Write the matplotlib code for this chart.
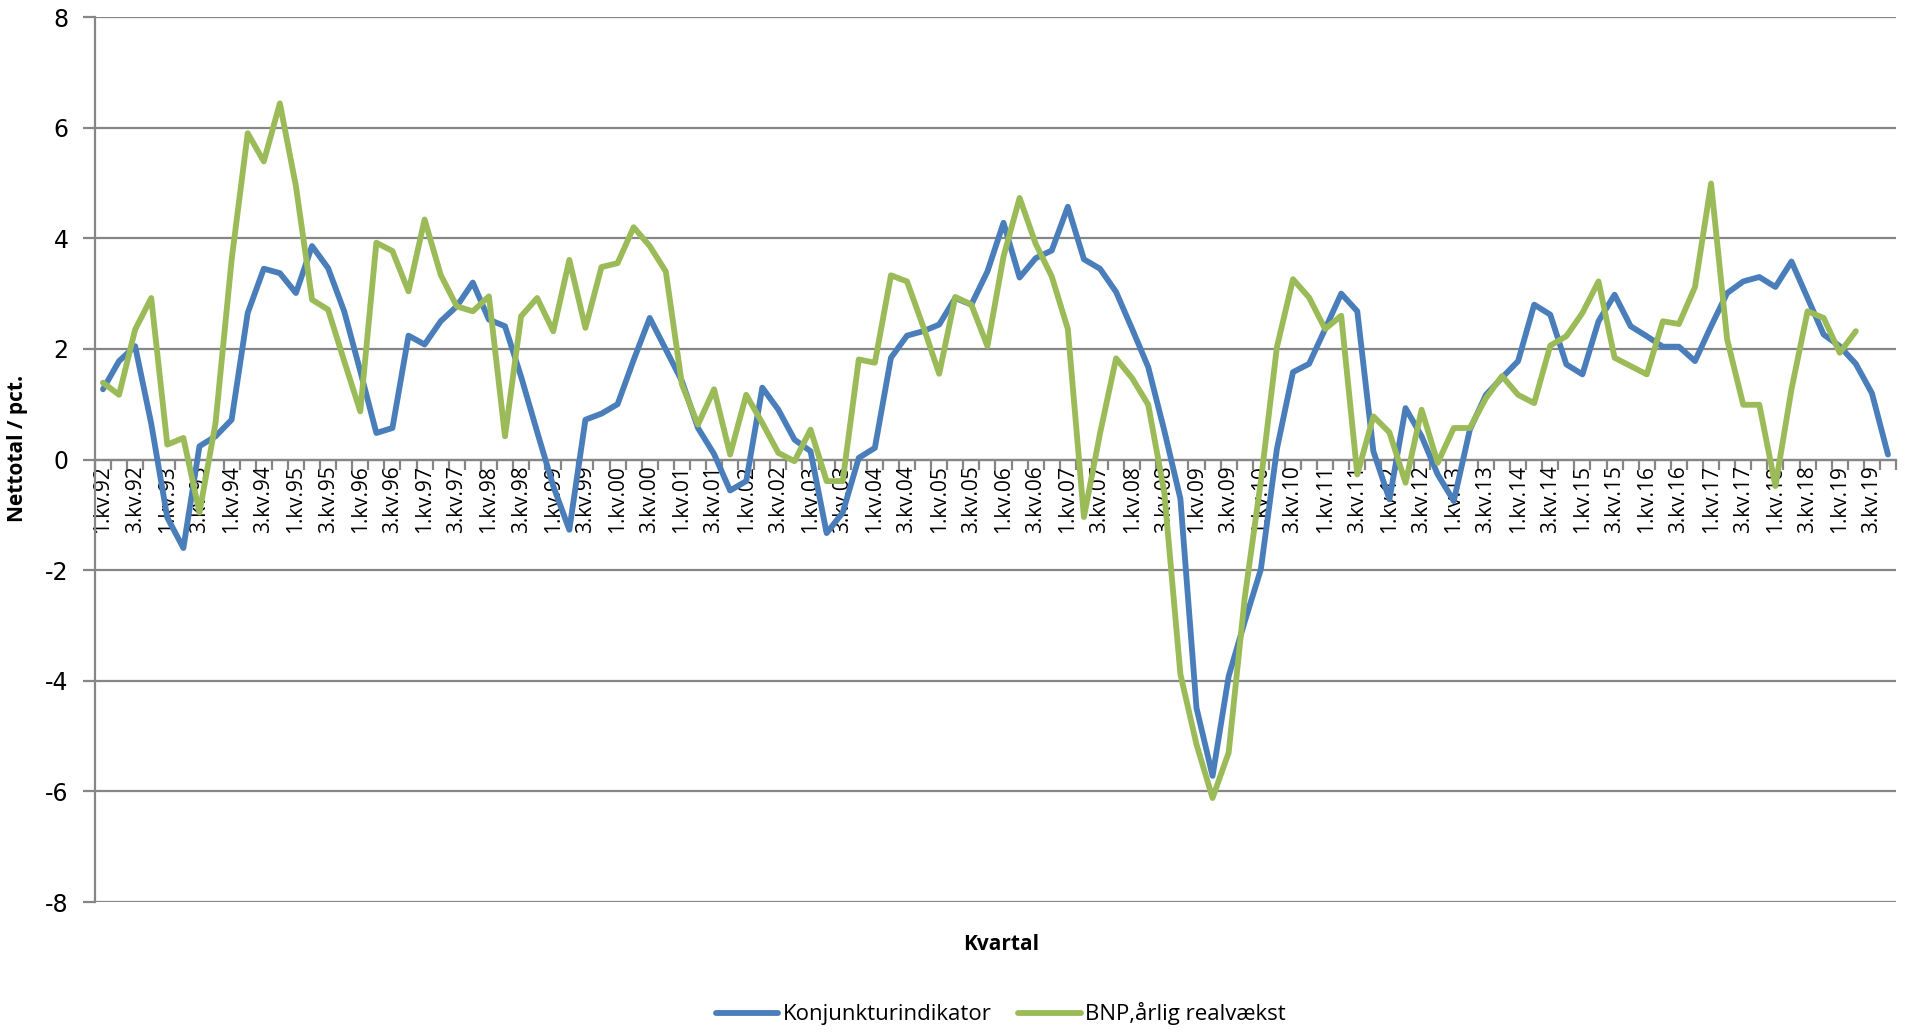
import numpy as np
import matplotlib
matplotlib.use("Agg")
import matplotlib.pyplot as plt

# Kvartaler 1.kv.92 - 4.kv.19
years = [f"{y % 100:02d}" for y in range(1992, 2020)]
quarters = [f"{q}.kv.{yy}" for yy in years for q in (1, 2, 3, 4)]

konjunktur = [
    1.27, 1.78, 2.05, 0.65, -1.05, -1.6, 0.24, 0.42, 0.72, 2.65,
    3.45, 3.37, 3.01, 3.86, 3.46, 2.68, 1.6, 0.48, 0.57, 2.24,
    2.08, 2.5, 2.77, 3.2, 2.53, 2.41, 1.5, 0.5, -0.48, -1.27,
    0.72, 0.83, 1.0, 1.8, 2.56, 1.99, 1.42, 0.57, 0.1, -0.56,
    -0.39, 1.3, 0.9, 0.36, 0.15, -1.33, -0.96, 0.03, 0.21, 1.84,
    2.24, 2.32, 2.44, 2.92, 2.8, 3.4, 4.28, 3.29, 3.64, 3.78,
    4.57, 3.62, 3.45, 3.03, 2.36, 1.67, 0.52, -0.71, -4.49, -5.72,
    -3.92, -2.93, -1.99, 0.19, 1.58, 1.73, 2.36, 3.0, 2.68, 0.15,
    -0.72, 0.93, 0.42, -0.27, -0.75, 0.54, 1.17, 1.48, 1.78, 2.8,
    2.62, 1.72, 1.54, 2.5, 2.98, 2.41, 2.23, 2.04, 2.04, 1.78,
    2.41, 3.01, 3.22, 3.3, 3.12, 3.58, 2.92, 2.26, 2.05, 1.73,
    1.2, 0.09,
]

bnp = [
    1.39, 1.17, 2.35, 2.92, 0.27, 0.39, -0.96, 0.66, 3.61, 5.9,
    5.39, 6.44, 4.94, 2.89, 2.71, 1.78, 0.87, 3.92, 3.77, 3.04,
    4.34, 3.34, 2.77, 2.68, 2.95, 0.42, 2.59, 2.92, 2.32, 3.61,
    2.38, 3.48, 3.55, 4.2, 3.86, 3.4, 1.36, 0.63, 1.27, 0.09,
    1.17, 0.66, 0.12, -0.03, 0.54, -0.39, -0.39, 1.81, 1.75, 3.33,
    3.22, 2.41, 1.55, 2.94, 2.8, 2.05, 3.67, 4.73, 3.9, 3.31,
    2.36, -1.04, 0.47, 1.83, 1.47, 0.99, -0.6, -3.88, -5.15, -6.12,
    -5.3, -2.5, -0.4, 2.03, 3.26, 2.93, 2.36, 2.6, -0.27, 0.78,
    0.49, -0.42, 0.9, -0.06, 0.57, 0.57, 1.11, 1.51, 1.17, 1.02,
    2.06, 2.23, 2.65, 3.22, 1.84, 1.69, 1.54, 2.5, 2.45, 3.12,
    4.99, 2.17, 0.99, 0.99, -0.48, 1.27, 2.68, 2.56, 1.93, 2.32,
]

blue = "#4A7EBB"
green = "#9BBB59"
grid_col = "#868686"

plt.rcParams["font.family"] = ["Open Sans", "DejaVu Sans"]
plt.rcParams["axes.unicode_minus"] = False

fig = plt.figure(figsize=(19.14, 10.33), dpi=100)
ax = fig.add_axes([0.0496, 0.1268, 0.941, 0.8567])

x_k = np.arange(len(konjunktur)) + 0.5
x_b = np.arange(len(bnp)) + 0.5
ax.plot(x_k, konjunktur, color=blue, lw=4.2, label="Konjunkturindikator",
        solid_joinstyle="round", solid_capstyle="round", zorder=3)
ax.plot(x_b, bnp, color=green, lw=4.2, label="BNP,årlig realvækst",
        solid_joinstyle="round", solid_capstyle="round", zorder=3)

ax.set_xlim(0, len(quarters))
ax.set_ylim(-8, 8)
ax.set_yticks(range(-8, 9, 2))
ax.yaxis.grid(True, color=grid_col, lw=1.6)
ax.set_axisbelow(True)

# x-akse ved 0 med kategorimærker
ax.spines["bottom"].set_position(("data", 0))
for s in ("top", "right"):
    ax.spines[s].set_visible(False)
for s in ("bottom", "left"):
    ax.spines[s].set_color(grid_col)
    ax.spines[s].set_linewidth(1.6)

ax.set_xticks(np.arange(0, len(quarters) + 1))
ax.set_xticklabels([])
ax.set_xticks(np.arange(0, len(quarters), 2) + 0.5, minor=True)
ax.set_xticklabels(quarters[::2], minor=True, rotation=90, fontsize=15,
                   va="top", ha="center")
ax.tick_params(axis="x", which="major", length=7, width=1.6, color=grid_col,
               direction="out")
ax.tick_params(axis="x", which="minor", length=0, pad=4)
ax.tick_params(axis="y", length=9, width=1.6, color=grid_col, pad=10,
               labelsize=17)
for t in ax.get_yticklabels():
    t.set_family(["DejaVu Sans"])

ax.set_ylabel("Nettotal / pct.", fontsize=15, fontweight="bold")
ax.yaxis.set_label_coords(-0.037, 0.513)
fig.text(0.523, 0.086, "Kvartal", fontsize=15, fontweight="bold",
         ha="center", va="center")

fig.legend(loc="lower center", bbox_to_anchor=(0.523, -0.012), ncol=2,
           frameon=False, fontsize=16, handlelength=2.8, columnspacing=1.2,
           handletextpad=0.2)

fig.savefig("out.png", dpi=100)
